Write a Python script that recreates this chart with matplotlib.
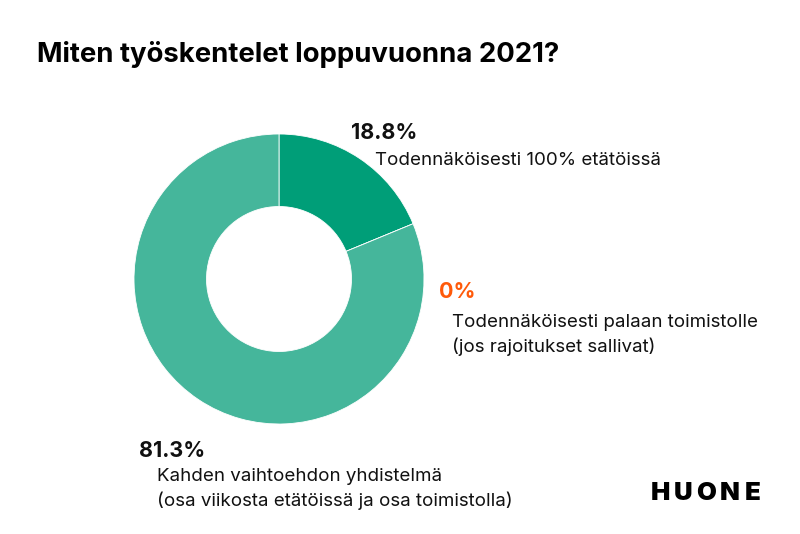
import matplotlib
matplotlib.use("Agg")
import matplotlib.pyplot as plt

title = "Miten työskentelet loppuvuonna 2021?"
categories = ["Todennäköisesti 100% etätöissä",
              "Todennäköisesti palaan toimistolle\n(jos rajoitukset sallivat)",
              "Kahden vaihtoehdon yhdistelmä\n(osa viikosta etätöissä ja osa toimistolla)"]
values = [18.8, 0.0, 81.3]
pct_labels = ["18.8%", "0%", "81.3%"]
colors = ["#009E78", "#FF5500", "#45B69B"]
pct_colors = ["#111111", "#FF5A0A", "#111111"]
logo_letters = list("HUONE")

W, H = 800, 534
fig = plt.figure(figsize=(8, 5.34), dpi=100)
fig.patch.set_facecolor("white")

font = "Inter"

def px(x, y):
    return x / W, 1 - y / H

# pie axes: centre (279, 279), radius 145
cx, cy, r = 279, 279, 145
ax = fig.add_axes([(cx - r) / W, (H - cy - r) / H, 2 * r / W, 2 * r / H])
ax.pie(values, colors=colors, startangle=90, counterclock=False,
       wedgeprops=dict(width=0.5, edgecolor="white", linewidth=0.6),
       radius=1.0)
ax.set_xlim(-1, 1)
ax.set_ylim(-1, 1)
ax.set_aspect("auto")
ax.axis("off")

fig.text(*px(37, 55), title, fontsize=19.8, fontweight="bold",
         family=font, va="center", ha="left", color="#000000")

# label positions (pixels)
pct_pos = [(351, 133), (439, 292), (139, 451)]
cat_pos = [(375, 160), (452, 335), (157, 489)]
for lab, c, (x, y) in zip(pct_labels, pct_colors, pct_pos):
    fig.text(*px(x, y), lab, fontsize=15.5, fontweight="bold", family=font,
             va="center", ha="left", color=c)
for cat, (x, y) in zip(categories, cat_pos):
    fig.text(*px(x, y), cat, fontsize=13.5, family=font, va="center",
             ha="left", color="#111111", linespacing=1.45)

# logo, letter-spaced
for i, ch in enumerate(logo_letters):
    fig.text(*px(660 + i * 23.2, 493), ch, fontsize=18.5, fontweight="black",
             family=font, va="center", ha="center", color="#000000")

fig.savefig("out.png", dpi=100)
